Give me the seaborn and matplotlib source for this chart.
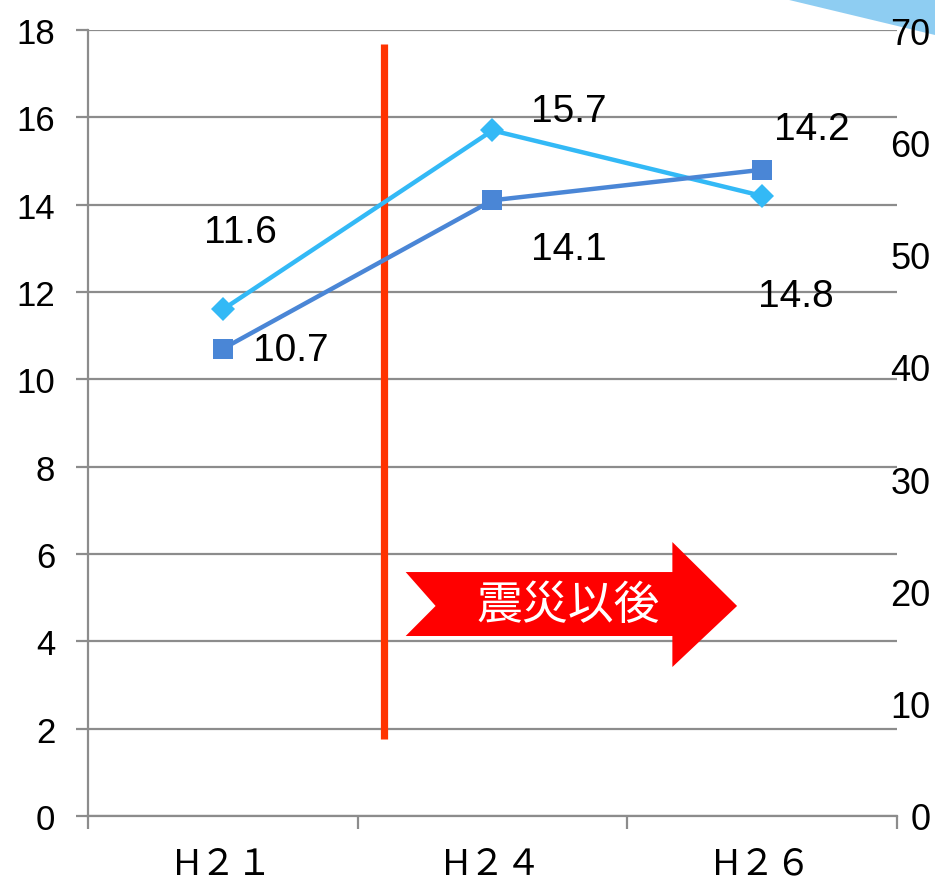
import numpy as np
import pandas as pd
import matplotlib
matplotlib.use("Agg")
import matplotlib.pyplot as plt
from matplotlib.patches import Polygon
import seaborn as sns

# --- data ---------------------------------------------------------------
years = ["H２１", "H２４", "H２６"]
series_a = [11.6, 15.7, 14.2]   # diamonds, light blue
series_b = [10.7, 14.1, 14.8]   # squares, darker blue
left_ticks = [0, 2, 4, 6, 8, 10, 12, 14, 16, 18]
right_ticks = [0, 10, 20, 30, 40, 50, 60, 70]
banner_text = "震災以後"

sns.set_theme(style="white")
plt.rcParams["font.family"] = ["Liberation Sans", "Noto Sans CJK JP", "DejaVu Sans"]
plt.rcParams["text.color"] = "black"
plt.rcParams["xtick.labelcolor"] = "black"
plt.rcParams["ytick.labelcolor"] = "black"

NUM_FONT = ["Liberation Sans", "Noto Sans CJK JP", "DejaVu Sans"]
GRID = "#8c8c8c"
C_A = "#33b9f6"
C_B = "#4a86d6"

fig = plt.figure(figsize=(9.35, 8.87), dpi=100)
ax = fig.add_axes([88 / 935, 1 - 817 / 887, (897 - 88) / 935, (817 - 31) / 887])

x = np.arange(len(years))
df = pd.DataFrame({
    "x": np.concatenate([x, x]),
    "value": series_a + series_b,
    "series": ["a"] * 3 + ["b"] * 3,
})

sns.lineplot(data=df[df.series == "a"], x="x", y="value", ax=ax, color=C_A,
             lw=3.2, marker="D", markersize=12.5, markeredgewidth=0, zorder=4)
sns.lineplot(data=df[df.series == "b"], x="x", y="value", ax=ax, color=C_B,
             lw=3.2, marker="s", markersize=14, markeredgewidth=0, zorder=5)

ax.set_xlim(-0.5, 2.5)
ax.set_ylim(0, 18)
ax.set_xlabel("")
ax.set_ylabel("")

# grid and spines
ax.set_yticks(left_ticks)
ax.yaxis.grid(True, color=GRID, lw=1.6)
ax.xaxis.grid(False)
for s in ["top", "right"]:
    ax.spines[s].set_visible(False)
for s in ["left", "bottom"]:
    ax.spines[s].set_color(GRID)
    ax.spines[s].set_linewidth(1.6)
ax.set_axisbelow(True)

ax.tick_params(axis="y", which="major", left=True, length=8.6, width=1.6,
               color=GRID, pad=15, labelsize=25, labelcolor="black")
ax.set_yticklabels([str(t) for t in left_ticks], family=["Liberation Sans", "DejaVu Sans"])

ax.set_xticks(x)
ax.set_xticklabels(years, fontsize=26, family=NUM_FONT)
ax.tick_params(axis="x", which="major", length=0, pad=22, labelcolor="black")
ax.set_xticks([-0.5, 0.5, 1.5, 2.5], minor=True)
ax.tick_params(axis="x", which="minor", bottom=True, length=9, width=1.6, color=GRID)

# secondary scale on the right
ax2 = ax.twinx()
ax2.set_ylim(0, 70)
ax2.set_yticks(right_ticks)
ax2.set_yticklabels([str(t) for t in right_ticks], family=["Liberation Sans", "DejaVu Sans"])
ax2.tick_params(axis="y", right=True, length=0, pad=24, labelsize=26, labelcolor="black")
for lab in ax2.get_yticklabels():
    lab.set_horizontalalignment("right")
for s in ax2.spines.values():
    s.set_visible(False)
ax2.grid(False)

# value labels
offsets_a = [(13, 56), (55, 14), (36, 48)]
offsets_b = [(49, -1), (55, -35), (24, -91)]
for xi, v, off in zip(x, series_a, offsets_a):
    ax.annotate(f"{v:.1f}", (xi, v), xytext=off,
                textcoords="offset points", ha="center", va="center",
                fontsize=28, family=NUM_FONT, color="black", zorder=6)
for xi, v, off in zip(x, series_b, offsets_b):
    ax.annotate(f"{v:.1f}", (xi, v), xytext=off,
                textcoords="offset points", ha="center", va="center",
                fontsize=28, family=NUM_FONT, color="black", zorder=6)

# dividing line
ax.plot([0.596, 0.596], [1.76, 17.68], color="#ff3300", lw=5.2,
        solid_capstyle="butt", zorder=3)

# banner arrow
arrow_pts = [(0.678, 5.587), (1.667, 5.587), (1.667, 6.274), (1.907, 4.81),
             (1.667, 3.412), (1.667, 4.122), (0.678, 4.122), (0.789, 4.81)]
ax.add_patch(Polygon(arrow_pts, closed=True, facecolor="#ff0000",
                     edgecolor="none", zorder=3))
ax.text(1.281, 4.84, banner_text, color="white", fontsize=33,
        family=["Noto Sans CJK JP"], ha="center", va="center", zorder=4)

# corner decoration, kept behind the axes
fig.patches.append(Polygon([(785 / 935, 1.0), (1.0, 1.0), (1.0, 1 - 36 / 887)],
                           closed=True, transform=fig.transFigure,
                           facecolor="#8ecdf2", edgecolor="none", zorder=-1))

fig.savefig("out.png", dpi=100)
